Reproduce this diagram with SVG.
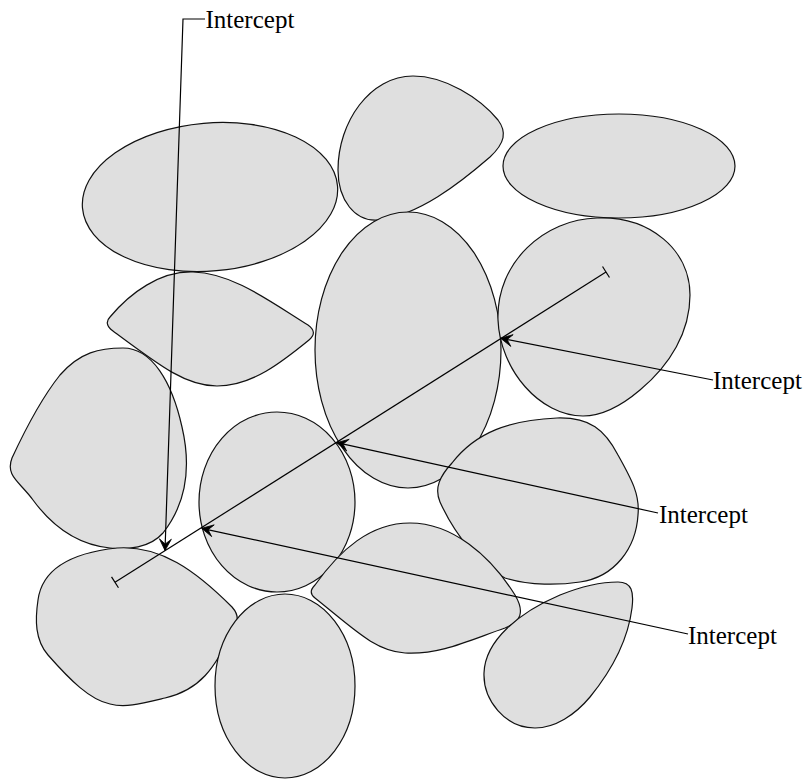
<svg xmlns="http://www.w3.org/2000/svg" xmlns:xlink="http://www.w3.org/1999/xlink" width="804" height="781" viewBox="0 0 804 781">
  <style>
    .grain { fill: #dfdfdf; stroke: #111; stroke-width: 1.2; stroke-linejoin: round; }
    .lead { fill: none; stroke: #000; stroke-width: 1.2; }
    .label { font-family: "Liberation Serif", "Times New Roman", serif; font-size: 25px; fill: #000; }
  </style>
  <defs>
    <marker id="arrow" markerUnits="userSpaceOnUse" viewBox="-13 -8 15 16" markerWidth="15" markerHeight="16" refX="0" refY="0" orient="auto">
      <path d="M0,0 L-11.5,-6 L-6.5,0 L-11.5,6 Z" fill="#000" stroke="#000" stroke-width="0.8" stroke-linejoin="miter"/>
    </marker>
    <marker id="tick" markerUnits="userSpaceOnUse" viewBox="-2 -8 4 16" markerWidth="4" markerHeight="16" refX="0" refY="0" orient="auto">
      <path d="M0,-6.5 L0,6.5" stroke="#000" stroke-width="1.2"/>
    </marker>
  </defs>

  <rect width="804" height="781" fill="#fff"/>

  <!-- grains -->
  <g id="grain-top-left">
    <ellipse class="grain" cx="210" cy="197" rx="128" ry="74" transform="rotate(-5 210 197)"/>
  </g>
  <g id="grain-top-middle">
    <path class="grain" d="M413,76 C445,76 480,98 498,120 C507,132 505,143 490,157 C460,183 418,216 378,220 C355,222 338,200 338,170 C338,122 370,76 413,76 Z"/>
  </g>
  <g id="grain-top-right">
    <ellipse class="grain" cx="619" cy="166" rx="116" ry="52"/>
  </g>
  <g id="grain-left-lens">
    <path class="grain" d="M110,317 C130,293 160,271 193,272 C232,273 268,300 308,325 C315,330 315,335 309,340 C282,362 252,386 217,386 C186,386 160,366 113,331 C106,326 106,321 110,317 Z"/>
  </g>
  <g id="grain-center">
    <ellipse class="grain" cx="408" cy="350" rx="93" ry="138"/>
  </g>
  <g id="grain-right-upper">
    <path class="grain" d="M597,218 C650,216 690,250 690,295 C690,332 670,365 640,390 C620,407 600,416 583,416 C540,416 500,370 498,320 C496,262 545,219 597,218 Z"/>
  </g>
  <g id="grain-left">
    <path class="grain" d="M123,348 C152,348 172,382 182,427 C192,470 185,505 163,533 C150,548 127,550 110,548 C80,545 55,530 33,500 C20,482 5,476 12,458 C25,430 40,400 60,375 C80,352 100,348 123,348 Z"/>
  </g>
  <g id="grain-middle-round">
    <ellipse class="grain" cx="277" cy="502" rx="78" ry="90"/>
  </g>
  <g id="grain-right-middle">
    <path class="grain" d="M557,418 C590,417 605,430 618,455 C632,480 640,495 638,515 C636,548 615,577 580,582 C560,585 530,586 505,578 C480,566 455,535 440,502 C434,488 440,476 452,463 C476,432 510,420 557,418 Z"/>
  </g>
  <g id="grain-bottom-left">
    <path class="grain" d="M117,548 C160,545 195,570 232,607 C240,616 238,622 232,632 C215,668 200,690 165,698 C140,704 125,708 110,704 C90,700 70,680 48,655 C35,640 35,620 38,600 C42,570 70,553 117,548 Z"/>
  </g>
  <g id="grain-bottom-lens">
    <path class="grain" d="M315,585 C340,550 370,523 410,523 C452,523 490,555 515,595 C525,612 521,622 505,628 C470,640 440,655 405,653 C375,651 355,630 315,598 C310,594 310,590 315,585 Z"/>
  </g>
  <g id="grain-bottom-center">
    <ellipse class="grain" cx="285" cy="686" rx="70" ry="92"/>
  </g>
  <g id="grain-bottom-right">
    <path class="grain" d="M618,582 C632,582 634,592 632,608 C628,640 612,670 590,697 C575,715 555,728 535,728 C505,728 483,700 484,673 C485,640 520,612 560,595 C585,585 605,582 618,582 Z"/>
  </g>

  <!-- test line and intercept leaders -->
  <g id="connectors">
    <line class="lead" x1="115" y1="582.3" x2="606" y2="272" marker-start="url(#tick)" marker-end="url(#tick)"/>
    <polyline class="lead" points="205,19 183,19 165,550.5" marker-end="url(#arrow)"/>
    <line class="lead" x1="713" y1="380" x2="500.7" y2="338.3" marker-end="url(#arrow)"/>
    <line class="lead" x1="658" y1="513" x2="336.7" y2="442.7" marker-end="url(#arrow)"/>
    <line class="lead" x1="688" y1="634" x2="201.7" y2="528.3" marker-end="url(#arrow)"/>
  </g>

  <g id="labels">
    <text class="label" x="205.5" y="28">Intercept</text>
    <text class="label" x="713" y="388.5">Intercept</text>
    <text class="label" x="659" y="522.7">Intercept</text>
    <text class="label" x="688" y="644.3">Intercept</text>
  </g>
</svg>
